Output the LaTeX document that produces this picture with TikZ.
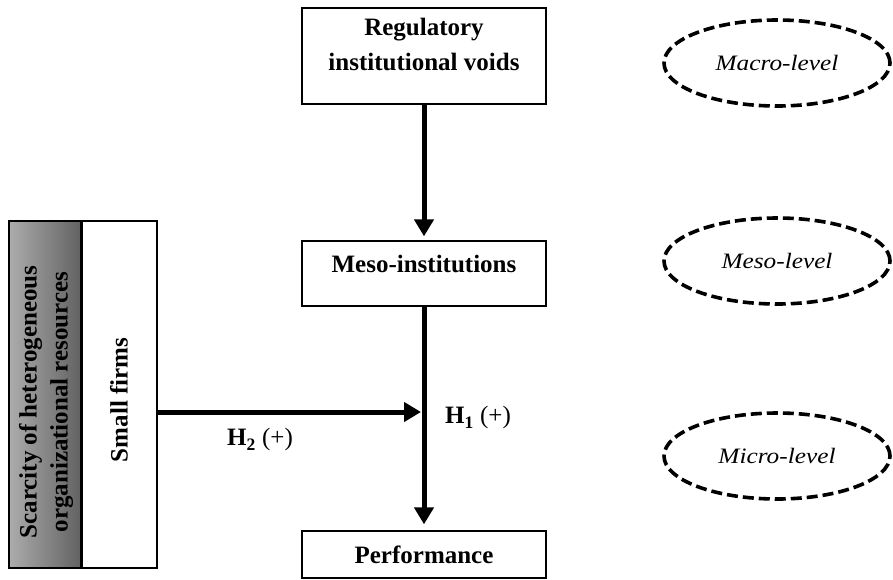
\documentclass[tikz,border=0pt]{standalone}
\usepackage{fontspec}
\setmainfont{Liberation Serif}
\newfontfamily\levelfont{Liberation Serif}[FakeStretch=1.15]
\usetikzlibrary{shapes.geometric,arrows.meta}
\tikzset{
  boxnode/.style={draw, line width=1.3pt, minimum width=244pt, inner sep=0pt},
  boxtext/.style={font=\fontsize{25}{35}\selectfont\bfseries, align=center, inner sep=0pt},
  levelnode/.style={ellipse, draw, line width=3.6pt, dash pattern=on 11pt off 5pt,
    minimum width=226pt, minimum height=86pt, inner sep=0pt,
    font=\levelfont\fontsize{22}{24}\selectfont\itshape},
  bigarrow/.style={line width=5pt, -{Triangle[length=17pt,width=19pt]}},
  hyptext/.style={font=\fontsize{25}{28}\selectfont, inner sep=0pt, anchor=base west},
}
\begin{document}
\begin{tikzpicture}[x=1pt,y=-1pt]
\useasboundingbox (0,0) rectangle (893,579);
\fill[white] (0,0) rectangle (893,579);

% central boxes
\node[boxnode, minimum height=96pt] (reg) at (424,56) {};
\node[boxtext, anchor=base] (regtxt) at (424,70) {Regulatory\\institutional voids};
\node[boxnode, minimum height=65pt] (meso) at (424,273.5) {};
\node[boxtext, anchor=base] (mesotxt) at (424,272) {Meso-institutions};
\node[boxnode, minimum height=47pt] (perf) at (424,554.5) {};
\node[boxtext, anchor=base] (perftxt) at (424,563) {Performance};

% left boxes
\node[draw, line width=1.3pt, minimum width=72pt, minimum height=347pt, inner sep=0pt,
  left color={rgb,255:red,172;green,172;blue,172}, right color={rgb,255:red,98;green,98;blue,98}] (scar) at (45,394.5) {};
\node[draw, line width=1.3pt, fill=white, minimum width=76pt, minimum height=347pt, inner sep=0pt] (sf) at (119,394.5) {};
\draw[line width=2pt] (scar.north east) -- (scar.south east);
\node[font=\fontsize{25}{31}\selectfont\bfseries, align=center, rotate=90, inner sep=0pt] (scartxt) at (46,402)
  {Scarcity of heterogeneous\\organizational resources};
\node[font=\fontsize{25}{31}\selectfont\bfseries, rotate=90, inner sep=0pt] (sftxt) at (119,400) {Small firms};

% arrows
\coordinate (join) at (424,412);
\draw[bigarrow, shorten >=4pt] (reg.south) -- (meso.north);
\draw[bigarrow, shorten >=6pt] (meso.south) -- (perf.north);
\draw[bigarrow] (sf.east |- join) -- ([xshift=-3pt]join);

% hypothesis labels
\node[hyptext] (h2) at (227,445) {\textbf{H\textsubscript{\raisebox{-2pt}{2}}} (+)};
\node[hyptext] (h1) at (445,423) {\textbf{H\textsubscript{\raisebox{-2pt}{1}}} (+)};

% level ellipses
\node[levelnode] (macro) at (777,63) {Macro-level};
\node[levelnode] (mesol) at (777,261) {Meso-level};
\node[levelnode] (micro) at (777,456) {Micro-level};
\end{tikzpicture}
\end{document}
